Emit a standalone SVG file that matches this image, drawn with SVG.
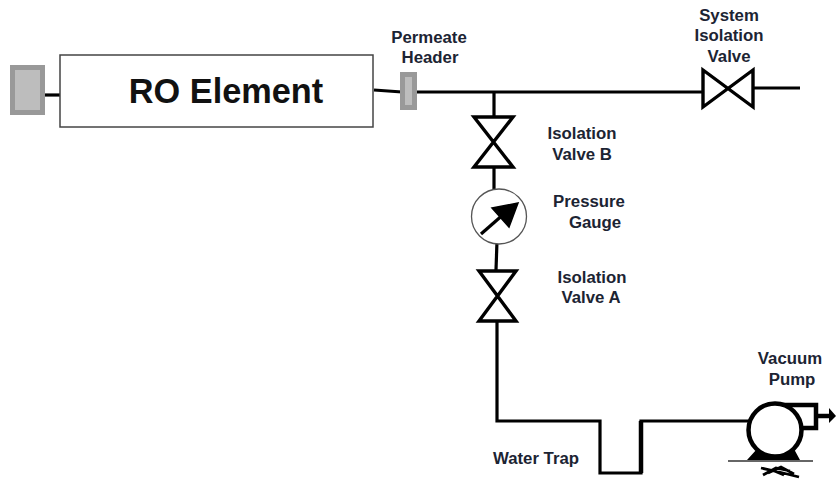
<svg xmlns="http://www.w3.org/2000/svg" width="836" height="479" viewBox="0 0 836 479">
<style>
text{font-family:"Liberation Sans",Arial,sans-serif;font-weight:bold;font-size:16.800px;fill:#1c2433;text-anchor:middle}
.t{font-size:34.300px;fill:#111}
.l{fill:none;stroke:#000;stroke-width:3.200}
.v{fill:#fff;stroke:#000;stroke-width:3.400;stroke-linejoin:miter}
</style>
<rect width="836" height="479" fill="#fff"/>
<g id="connectors">
<path class="l" d="M41 95H60"/>
<path class="l" d="M374 90L402 92"/>
<path class="l" d="M416 92H702"/>
<path class="l" d="M753 88H800"/>
<path class="l" d="M494 92V116"/>
<path class="l" d="M494 167V190"/>
<path class="l" d="M497 241L496 270"/>
<path class="l" d="M497 322V421H600V473H641V421H750"/>
<path d="M641 421V473" fill="none" stroke="#000" stroke-width="4.500"/>
</g>
<g id="ro-end-cap"><rect x="12.500" y="67.500" width="30" height="45" fill="#bdbdbd" stroke="#999" stroke-width="5"/></g>
<g id="ro-element"><rect x="60" y="55" width="313" height="72" fill="#fff" stroke="#444" stroke-width="1.500"/><text class="t" x="226" y="103">RO Element</text></g>
<g id="permeate-header"><rect x="402.500" y="74.500" width="12" height="33" fill="#bdbdbd" stroke="#999" stroke-width="5"/><text x="429" y="43">Permeate</text><text x="430" y="63">Header</text></g>
<g id="system-isolation-valve"><path class="v" d="M703 70L753 107V70L703 107Z"/><text x="729" y="21">System</text><text x="729" y="41">Isolation</text><text x="729" y="62">Valve</text></g>
<g id="isolation-valve-b"><path class="v" d="M474 117H513L474 167H513Z"/><text x="582" y="139">Isolation</text><text x="582" y="160">Valve B</text></g>
<g id="pressure-gauge"><circle cx="499" cy="216.500" r="27.500" fill="#fff" stroke="#555" stroke-width="1.300"/><path d="M481 234L505 213" stroke="#000" stroke-width="3.200" fill="none"/><path d="M518 203L492 208L509 227Z" fill="#000" stroke="#000" stroke-width="1.500"/><text x="589" y="207">Pressure</text><text x="595" y="228">Gauge</text></g>
<g id="isolation-valve-a"><path class="v" d="M479 271H516L479 321H516Z"/><text x="592" y="283">Isolation</text><text x="591" y="303">Valve A</text></g>
<g id="water-trap"><text x="536" y="464">Water Trap</text></g>
<g id="vacuum-pump">
<path d="M773 405H816V428H800" fill="none" stroke="#000" stroke-width="4.500"/>
<path d="M816 416H830" fill="none" stroke="#000" stroke-width="4.500"/>
<path d="M829 408L836 416L829 423Z" fill="#000"/>
<path d="M747 460L757 449L762 447L775 453L790 447L794 449L800 460Z" fill="#000"/>
<path d="M728 461H813" fill="none" stroke="#333" stroke-width="1.500"/>
<circle cx="775" cy="430" r="26.500" fill="#fff" stroke="#000" stroke-width="4.500"/>
<path d="M761 468L779 472L799 477M763 475L776 468L790 471M768 473L781 467L794 474M772 470L784 475" fill="none" stroke="#000" stroke-width="2.800"/>
<text x="790" y="364">Vacuum</text><text x="792" y="385">Pump</text></g>
</svg>
